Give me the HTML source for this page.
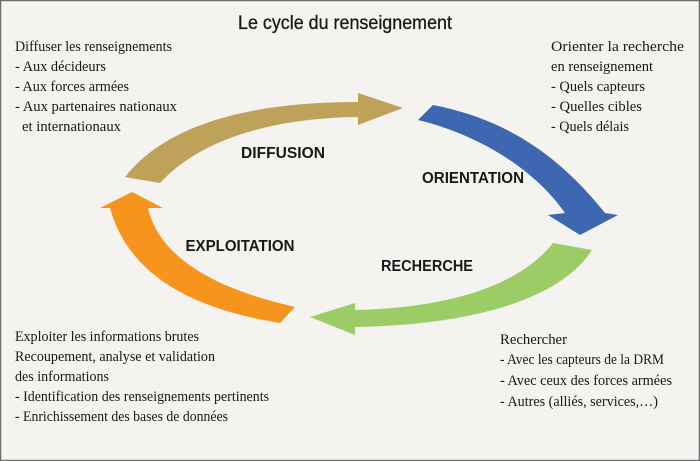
<!DOCTYPE html>
<html><head><meta charset="utf-8"><style>
html,body{margin:0;padding:0;background:#fff}
svg{display:block}
.t{font-family:"Liberation Serif",serif;font-size:15px;fill:#1a1718}
.l{font-family:"Liberation Sans",sans-serif;font-weight:bold;font-size:16px;fill:#1a1718}
</style></head><body>
<svg width="700" height="461" viewBox="0 0 700 461" xmlns="http://www.w3.org/2000/svg">
<rect x="0.5" y="0.5" width="699" height="460" fill="#f4f3ef" stroke="#6d6d6d" stroke-width="1.5"/>
<text x="345" y="29" text-anchor="middle" font-family="Liberation Sans,sans-serif" font-size="19" fill="#1a1718" stroke="#1a1718" stroke-width="0.3" textLength="214" lengthAdjust="spacingAndGlyphs">Le cycle du renseignement</text>

<path d="M125,177 C170,120 260,102 358,102 L358,93 L403,108 L358,125 L358,117 C270,118 200,140 160,183 Z" fill="#bfa25a"/>
<path d="M433,105 C500,118 555,150 605,213 L618,215 L580,235 L548,215 L565,213 C535,170 480,135 418,120 Z" fill="#3d67b0"/>
<path d="M553,243 C520,285 450,308 355,310 L355,303 L310,317 L355,335 L355,327 C470,325 560,300 592,250 Z" fill="#9ccc65"/>
<path d="M280,323 C200,310 130,280 110,208 L100,208 L132,192 L163,208 L148,208 C160,260 220,290 295,307 Z" fill="#f7941d"/>

<text class="l" x="283" y="158" text-anchor="middle" textLength="84" lengthAdjust="spacingAndGlyphs">DIFFUSION</text>
<text class="l" x="473" y="183" text-anchor="middle" textLength="102" lengthAdjust="spacingAndGlyphs">ORIENTATION</text>
<text class="l" x="240" y="251" text-anchor="middle" textLength="109" lengthAdjust="spacingAndGlyphs">EXPLOITATION</text>
<text class="l" x="427" y="271" text-anchor="middle" textLength="92" lengthAdjust="spacingAndGlyphs">RECHERCHE</text>

<g class="t">
<text x="15" y="51" textLength="157" lengthAdjust="spacingAndGlyphs">Diffuser les renseignements</text>
<text x="15" y="71" textLength="91" lengthAdjust="spacingAndGlyphs">- Aux décideurs</text>
<text x="15" y="91" textLength="114" lengthAdjust="spacingAndGlyphs">- Aux forces armées</text>
<text x="15" y="111" textLength="162" lengthAdjust="spacingAndGlyphs">- Aux partenaires nationaux</text>
<text x="22" y="131" textLength="99" lengthAdjust="spacingAndGlyphs">et internationaux</text>

<text x="551" y="51" textLength="133" lengthAdjust="spacingAndGlyphs">Orienter  la  recherche</text>
<text x="551" y="71" textLength="102" lengthAdjust="spacingAndGlyphs">en renseignement</text>
<text x="551" y="91" textLength="94" lengthAdjust="spacingAndGlyphs">- Quels capteurs</text>
<text x="551" y="111" textLength="91" lengthAdjust="spacingAndGlyphs">- Quelles  cibles</text>
<text x="551" y="131" textLength="78" lengthAdjust="spacingAndGlyphs">- Quels délais</text>

<text x="15" y="341" textLength="184" lengthAdjust="spacingAndGlyphs">Exploiter les informations brutes</text>
<text x="15" y="361" textLength="200" lengthAdjust="spacingAndGlyphs">Recoupement, analyse et validation</text>
<text x="15" y="381" textLength="94" lengthAdjust="spacingAndGlyphs">des informations</text>
<text x="15" y="401" textLength="254" lengthAdjust="spacingAndGlyphs">- Identification des renseignements pertinents</text>
<text x="15" y="421" textLength="213" lengthAdjust="spacingAndGlyphs">- Enrichissement des bases de données</text>

<text x="500" y="344" textLength="67" lengthAdjust="spacingAndGlyphs">Rechercher</text>
<text x="500" y="364" textLength="164" lengthAdjust="spacingAndGlyphs">- Avec les capteurs de la DRM</text>
<text x="500" y="385" textLength="172" lengthAdjust="spacingAndGlyphs">- Avec ceux des forces armées</text>
<text x="500" y="406" textLength="158" lengthAdjust="spacingAndGlyphs">- Autres (alliés, services,…)</text>
</g>
</svg>
</body></html>
